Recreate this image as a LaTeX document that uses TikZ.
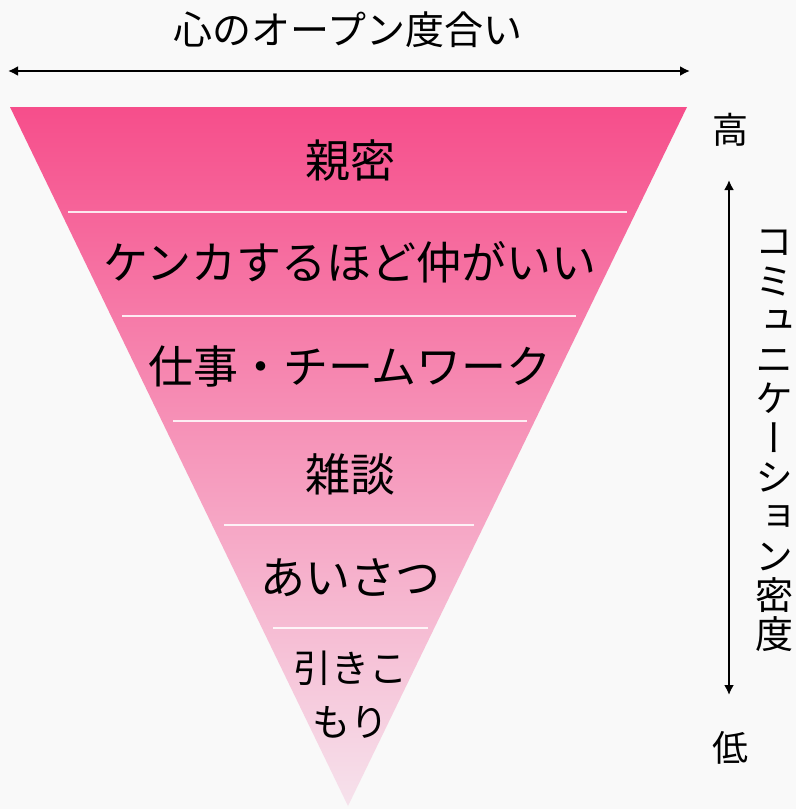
\documentclass[tikz,border=0pt]{standalone}
\usepackage{fontspec}
\setmainfont{Noto Sans CJK JP}
\newfontfamily\tate[RawFeature=+vert]{Noto Sans CJK JP}% vertical glyph forms
\usetikzlibrary{arrows.meta}
\definecolor{pinkTop}{RGB}{246,78,139}
\definecolor{pinkMid}{RGB}{243,140,181}
\definecolor{pinkLow}{RGB}{246,226,236}
\definecolor{paper}{RGB}{249,249,249}

\begin{document}
\begin{tikzpicture}[x=1pt,y=-1pt,
    L/.style = {font=\fontsize{45}{54}\selectfont,% labels inside the funnel
                inner sep=0pt, align=center},
    S/.style = {draw=white, line width=1.5pt, opacity=0.85},% separating lines
    A/.style = {{Latex[length=10pt,width=10pt]}-{Latex[length=10pt,width=10pt]},
                line width=2pt},
    T/.style = {font=\fontsize{39}{40}\selectfont, inner sep=0pt},
                        ]
\fill[paper] (0,0) rectangle (796,809);
\useasboundingbox (0,0) rectangle (796,809);
% funnel
\shade[top color=pinkTop, middle color=pinkMid, bottom color=pinkLow]
    (10,107) -- (687,107) -- (348,806) -- cycle;
\foreach \y/\xa/\xb in {212/68/627, 316/122/576, 421/173/527,
                        525/224/474, 628/273/428}
    \draw[S] (\xa,\y) -- (\xb,\y);
\foreach \y/\t [count=\i] in {160/親密, 262/ケンカするほど仲がいい,
                              366/仕事・チームワーク, 474/雑談, 578/あいさつ}
    \node[L] (lvl-\i) at (350,\y) {\t};
\node[L, font=\fontsize{38}{54}\selectfont] (lvl-6) at (350,695) {引きこ\\もり};
% openness, top
\node[T] (open) at (348,30) {心のオープン度合い};
\coordinate (openL) at (8,71);
\coordinate (openR) at (690,71);
\draw[A] (openL) -- (openR);
% density, right
\node[T, font=\fontsize{36}{38}\selectfont] (high) at (730,130) {高};
\node[T, font=\fontsize{36}{38}\selectfont] (low) at (730,748) {低};
\coordinate (denT) at (729,180);
\coordinate (denB) at (729,695);
\draw[A] (denT) -- (denB);
\node[inner sep=0pt, align=center, font=\tate\fontsize{38}{39.3}\selectfont]
    (dens) at (774,441) {コ\\ミ\\ュ\\ニ\\ケ\\ー\\シ\\ョ\\ン\\密\\度};
\end{tikzpicture}
\end{document}
